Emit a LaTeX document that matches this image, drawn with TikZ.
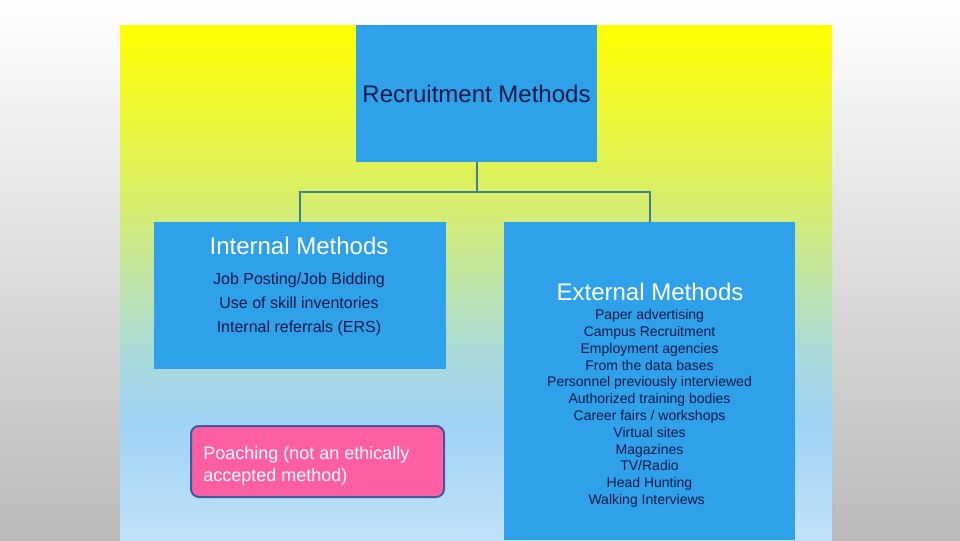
\documentclass[tikz,border=0pt]{standalone}
\usepackage{fontspec}
\setmainfont{Liberation Sans}

\definecolor{bleuboite}{HTML}{2FA0EA}
\definecolor{encre}{HTML}{0C1A48}
\definecolor{couleurlien}{HTML}{3B8592}
\definecolor{rose}{HTML}{FF5FA2}
\definecolor{bordrose}{HTML}{3C5A9C}

\pgfdeclareverticalshading{fondpanneau}{100bp}{rgb(0bp)=(0.753,0.886,0.980); rgb(25bp)=(0.753,0.886,0.980); rgb(36.5bp)=(0.624,0.827,0.961); rgb(43.5bp)=(0.667,0.859,0.847); rgb(58bp)=(0.847,0.933,0.416); rgb(75bp)=(1,1,0); rgb(100bp)=(1,1,0)}

\begin{document}
\begin{tikzpicture}[x=0.75pt,y=-0.75pt,
  bleu/.style={fill=bleuboite, draw=none, inner sep=0pt},
  titre/.style={text=white, font=\fontsize{18}{21.6}\selectfont},
  lien/.style={draw=couleurlien, line width=1.5pt}]

% Fond de la page
\useasboundingbox (0,0) rectangle (960,540);
\shade[top color=white, bottom color=black!27] (0,0) rectangle (960,540);

% Panneau en dégradé
\shade[shading=fondpanneau] (120,25) rectangle (832,540);

% Boîtes bleues
\node[bleu, minimum width=180.75pt, minimum height=102.75pt, text=encre,
  font=\fontsize{18}{21.6}\selectfont] (recrut) at (476.5,93.5) {Recruitment Methods};
\node[bleu, minimum width=219pt, minimum height=110.25pt] (interne) at (300,295.5) {};
\node[bleu, minimum width=218.25pt, minimum height=238.5pt] (externe) at (649.5,381) {};

% Liaisons
\draw[lien] (recrut.south) -- ++(0,30) -| (interne.north);
\draw[lien] (recrut.south) -- ++(0,30) -| (externe.north);

% Méthodes internes
\node[titre] (titreint) at (299,246) {Internal Methods};
\node[text=encre, align=center, font=\fontsize{12}{18}\selectfont] (listeint) at (299,304)
  {Job Posting/Job Bidding\\Use of skill inventories\\Internal referrals (ERS)};

% Débauchage
\node[fill=rose, draw=bordrose, line width=1.5pt, rounded corners=6pt,
  minimum width=189.75pt, minimum height=53.25pt] (poche) at (317.5,461.5) {};
\node[anchor=west, align=left, text=white, inner sep=0pt,
  font=\fontsize{13.5}{16.5}\selectfont] (pochetexte) at (203,465.5)
  {Poaching (not an ethically\\accepted method)};

% Méthodes externes
\node[titre] (titreext) at (650,292) {External Methods};
\node[text=encre, align=center, font=\fontsize{10.5}{12.6}\selectfont] (listeext) at (649.5,408.5)
  {Paper advertising\\Campus Recruitment\\Employment agencies\\From the data bases\\
   Personnel previously interviewed\\Authorized training bodies\\Career fairs / workshops\\
   Virtual sites\\Magazines\\TV/Radio\\Head Hunting\\Walking Interviews {\color{white}\tiny ,}};

\end{tikzpicture}
\end{document}
